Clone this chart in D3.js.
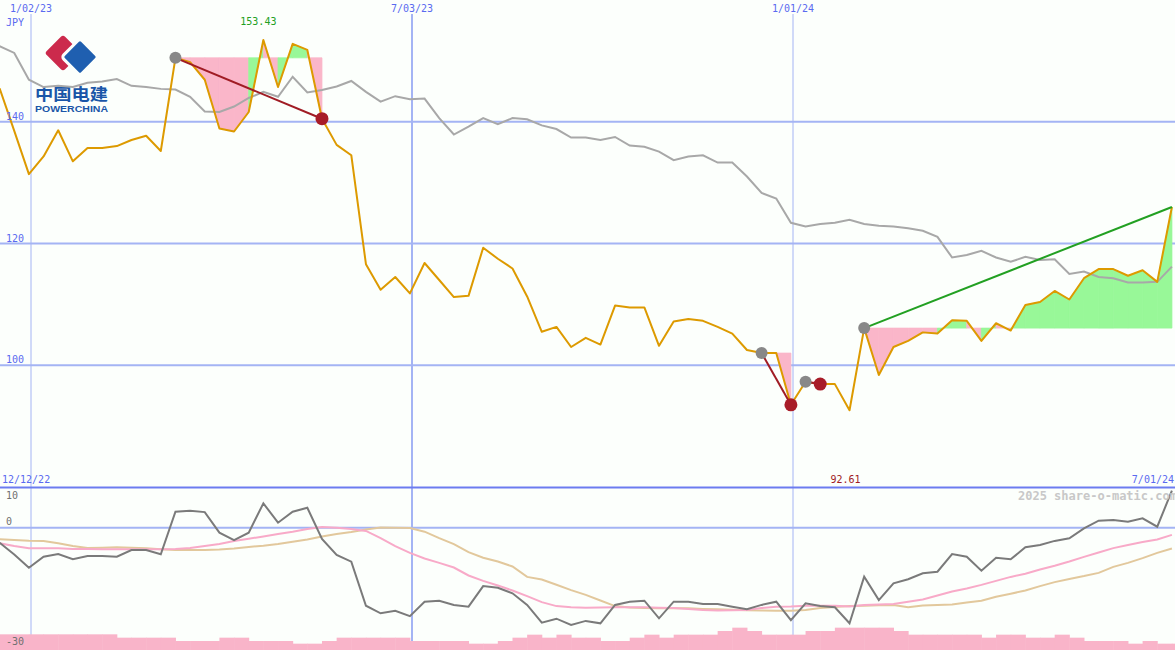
<!DOCTYPE html>
<html>
<head>
<meta charset="utf-8">
<script src="https://cdn.jsdelivr.net/npm/d3@7"></script>
<style>
  body { margin: 0; background: #fcfffc; }
  svg { display: block; }
  text { font-family: "DejaVu Sans Mono", monospace; font-size: 10px; }
</style>
</head>
<body>
<div id="chart"></div>
<script>
// weekly closes, first week 12/18/22
const firstWeek = new Date(2022, 11, 18);

const price = [145.5, 138.5, 131.4, 134.3, 138.6, 133.5, 135.7, 135.7, 136.0, 137.0,
  137.7, 135.2, 150.5, 149.8, 146.9, 138.9, 138.4, 141.6, 153.43, 145.7,
  152.8, 151.8, 140.5, 136.2, 134.5, 116.6, 112.4, 114.5, 111.8, 116.8,
  114.0, 111.2, 111.4, 119.3, 117.5, 115.9, 111.3, 105.5, 106.3, 103.0,
  104.5, 103.4, 109.8, 109.5, 109.5, 103.2, 107.2, 107.6, 107.3, 106.3,
  105.2, 102.5, 102.0, 102.0, 93.5, 97.3, 96.9, 96.9, 92.61, 106.1,
  98.4, 103.0, 104.0, 105.4, 105.2, 107.4, 107.3, 104.0, 106.9, 105.7,
  109.9, 110.4, 112.2, 110.8, 114.3, 115.8, 115.8, 114.7, 115.6, 113.7, 126.0];

const index = [152.4, 151.3, 146.9, 145.7, 145.9, 145.7, 146.4, 146.6, 147.0, 145.9,
  145.7, 145.4, 145.3, 144.1, 141.7, 141.6, 142.5, 143.9, 144.9, 144.1,
  147.4, 144.8, 145.2, 145.8, 146.7, 144.9, 143.3, 144.2, 143.7, 143.8,
  140.6, 137.9, 139.2, 140.6, 139.6, 140.6, 140.4, 139.4, 138.8, 137.4,
  137.4, 137.0, 137.5, 136.1, 135.9, 135.1, 133.7, 134.3, 134.5, 133.3,
  133.3, 131.0, 128.3, 127.4, 123.4, 122.8, 123.2, 123.4, 123.9, 123.2,
  122.9, 122.8, 122.5, 122.1, 121.1, 117.7, 118.1, 118.8, 117.7, 117.0,
  117.8, 117.3, 117.4, 115.0, 115.4, 114.5, 114.3, 113.6, 113.6, 113.7, 116.2];

const relative = [-3.75, -6.7, -10, -7.25, -6.6, -7.9, -7.1, -7.1, -7.25, -5.6,
  -5.6, -6.65, 4.0, 4.25, 3.9, -1.25, -3.1, -1.25, 6.1, 1.25,
  4.0, 5.0, -2.8, -6.8, -8.5, -19.5, -21.4, -20.75, -22.1, -18.5,
  -18.25, -19.3, -19.75, -14.6, -15, -16.4, -19.3, -23.75, -22.75, -24.3,
  -23.3, -23.9, -19.3, -18.5, -18.25, -22.65, -18.5, -18.5, -19.1, -19.1,
  -19.75, -20.4, -19.3, -18.5, -23.1, -18.9, -19.6, -19.9, -23.9, -12.25,
  -18.1, -13.9, -12.9, -11.4, -11, -6.6, -7.25, -10.75, -7.5, -7.9,
  -4.9, -4.3, -3.3, -2.65, -0.15, 1.75, 1.9, 1.5, 2.35, 0.25, 9.25];

const avgShort = [-3.9, -4.6, -5.15, -5.15, -5.15, -5.3, -5.3, -5.4, -5.4, -5.4,
  -5.4, -5.4, -5.3, -5.1, -4.6, -4.1, -3.3, -2.75, -2.2, -1.6,
  -1.0, -0.3, 0.2, 0, -0.3, -0.8, -2.6, -4.6, -6.3, -7.7,
  -8.8, -9.95, -11.95, -13.3, -14.45, -15.7, -17.1, -18.6, -19.6, -19.9,
  -20.0, -19.95, -19.9, -19.9, -19.9, -20, -20.1, -20.3, -20.6, -20.7,
  -20.65, -20.6, -20.1, -19.75, -19.7, -19.5, -19.5, -19.5, -19.7, -19.3,
  -19.2, -19.1, -18.5, -17.95, -16.95, -15.95, -15.2, -14.3, -13.3, -12.3,
  -11.5, -10.45, -9.5, -8.45, -7.3, -6.2, -5.1, -4.3, -3.6, -2.95, -1.8];

const avgLong = [-2.9, -3.1, -3.25, -3.3, -3.9, -4.6, -5.1, -5.0, -4.9, -5.0,
  -5.15, -5.4, -5.6, -5.6, -5.6, -5.45, -5.2, -4.8, -4.5, -4.1,
  -3.5, -2.95, -2.2, -1.6, -1.1, -0.45, 0.05, 0, -0.1, -1.0,
  -2.6, -4.1, -6.1, -7.5, -8.45, -9.7, -12.3, -12.95, -14.25, -15.6,
  -16.8, -18.2, -19.6, -19.95, -20.1, -20.15, -20.15, -20.15, -20.3, -20.4,
  -20.5, -20.65, -20.7, -20.75, -20.75, -20.6, -20.1, -19.8, -19.6, -19.5,
  -19.4, -19.3, -19.9, -19.45, -19.3, -19.2, -18.7, -18.25, -17.25, -16.5,
  -15.7, -14.6, -13.6, -12.8, -12.1, -11.3, -9.8, -8.8, -7.6, -6.3, -5.2];

const volume = [4.7, 4.7, 4.7, 4.7, 4.7, 4.7, 4.7, 4.7, 3.7, 3.7,
  3.7, 3.7, 2.7, 2.7, 2.7, 3.7, 3.7, 2.7, 2.7, 2.7,
  1.9, 1.9, 2.7, 3.7, 3.7, 3.7, 3.7, 3.7, 2.7, 2.7,
  2.7, 2.7, 1.9, 1.9, 2.7, 3.7, 4.6, 3.7, 4.6, 3.7,
  3.7, 2.7, 2.7, 3.7, 4.6, 3.7, 4.6, 4.6, 4.6, 5.7,
  6.7, 5.7, 4.6, 4.6, 4.6, 5.7, 5.7, 6.7, 6.7, 6.7,
  6.7, 5.7, 4.6, 4.6, 4.6, 4.6, 4.6, 3.7, 4.6, 4.6,
  3.7, 3.7, 4.6, 3.7, 2.7, 2.7, 2.7, 1.9, 2.7, 1.9, 1.9];

const dateTicks = ["1/02/23", "7/03/23", "1/01/24"];
const rangeLabels = ["12/12/22", "7/01/24"];
const priceTicks = [100, 120, 140];
const relTicks = [10, 0, -30];

// swings: start week index, end week index
const swings = [
  { from: 12, to: 22, color: "#a01c24", endDot: true },
  { from: 52, to: 54, color: "#a01c24", endDot: true },
  { from: 55, to: 56, color: "#a01c24", endDot: true },
  { from: 59, to: 80, color: "#22a022", endDot: false }
];

var width = 1175, height = 650;
var parseTick = d3.timeParse("%m/%d/%y");
var dates = price.map((d, i) => d3.timeWeek.offset(firstWeek, i));

var svg = d3.select("#chart")
  .append("svg")
  .attr("width", width)
  .attr("height", height)
  .style("background", "#fcfffc");

var x = d3.scaleTime()
  .domain([parseTick("1/02/23"), parseTick("7/01/24")])
  .range([31, 1174]);
var y = d3.scaleLinear().domain([80, 160]).range([487, 0]);
var yRel = d3.scaleLinear().domain([-30, 10]).range([647.7, 487.7]);
var yVol = d3.scaleLinear().domain([0, 15]).range([650, 600]);

var defs = svg.append("defs");
defs.append("clipPath").attr("id", "topClip").append("rect")
  .attr("x", 0).attr("y", 0).attr("width", width).attr("height", 487);
defs.append("clipPath").attr("id", "bottomClip").append("rect")
  .attr("x", 0).attr("y", 488).attr("width", width).attr("height", 162);

// logo
var logo = svg.append("g");
logo.append("rect")
  .attr("x", -13).attr("y", -13).attr("width", 26).attr("height", 26).attr("rx", 3)
  .attr("transform", "translate(63,53) rotate(45)")
  .attr("fill", "#cc2a4c");
logo.append("rect")
  .attr("x", -13).attr("y", -13).attr("width", 26).attr("height", 26).attr("rx", 3)
  .attr("transform", "translate(80,57) rotate(45)")
  .attr("fill", "#1f5fb0")
  .attr("stroke", "#fcfffc").attr("stroke-width", 3);
logo.append("text")
  .attr("x", 35).attr("y", 100)
  .attr("textLength", 73).attr("lengthAdjust", "spacingAndGlyphs")
  .style("font-family", "'Noto Sans CJK SC'")
  .style("font-size", "16px").style("font-weight", "bold")
  .attr("fill", "#1a56a8")
  .text("中国电建");
logo.append("text")
  .attr("x", 35).attr("y", 112)
  .attr("textLength", 73).attr("lengthAdjust", "spacingAndGlyphs")
  .style("font-family", "'Liberation Sans'")
  .style("font-size", "9px").style("font-weight", "bold")
  .attr("fill", "#1a56a8")
  .text("POWERCHINA");

// grid
svg.selectAll(".hgrid")
  .data(priceTicks)
  .enter()
  .append("line")
  .attr("x1", 0).attr("x2", width)
  .attr("y1", d => y(d)).attr("y2", d => y(d))
  .attr("stroke", "#a4b4f4").attr("stroke-width", 2);

svg.append("line")
  .attr("x1", 0).attr("x2", width)
  .attr("y1", yRel(0)).attr("y2", yRel(0))
  .attr("stroke", "#a4b4f4").attr("stroke-width", 2);

svg.selectAll(".vgrid")
  .data(dateTicks)
  .enter()
  .append("line")
  .attr("x1", d => x(parseTick(d))).attr("x2", d => x(parseTick(d)))
  .attr("y1", 14).attr("y2", height)
  .attr("stroke", "#a4b4f4")
  .attr("stroke-width", d => parseTick(d).getMonth() === 0 ? 1 : 2);

svg.append("line")
  .attr("x1", 0).attr("x2", width)
  .attr("y1", 487.5).attr("y2", 487.5)
  .attr("stroke", "#6c7cf0").attr("stroke-width", 2);

// volume
svg.append("g")
  .selectAll("rect")
  .data(volume)
  .enter()
  .append("rect")
  .attr("x", (d, i) => x(dates[i]))
  .attr("width", (d, i) => x(d3.timeWeek.offset(dates[i], 1)) - x(dates[i]) + 0.5)
  .attr("y", d => yVol(d))
  .attr("height", d => yVol(0) - yVol(d))
  .attr("fill", "#f9b4c9");

// swing fills
var topG = svg.append("g").attr("clip-path", "url(#topClip)");
var poly = d3.line();
swings.forEach(s => {
  var level = price[s.from];
  for (let k = s.from; k < s.to; k++) {
    var pts = [[x(dates[k]), y(level)], [x(dates[k]), y(price[k])],
      [x(dates[k + 1]), y(price[k + 1])], [x(dates[k + 1]), y(level)]];
    var c = price[k + 1] >= level ? "#98f898" : "#fab6c9";
    topG.append("path")
      .attr("d", poly(pts) + "Z")
      .attr("fill", c)
      .attr("stroke", c).attr("stroke-width", 0.8);
  }
});

var line = d3.line().x((d, i) => x(dates[i])).y(d => y(d));

topG.append("path")
  .attr("d", line(index))
  .attr("fill", "none").attr("stroke", "#a8a8a8").attr("stroke-width", 2);

topG.append("path")
  .attr("d", line(price))
  .attr("fill", "none").attr("stroke", "#dd9a00").attr("stroke-width", 2)
  .attr("stroke-linejoin", "round");

swings.forEach(s => {
  topG.append("line")
    .attr("x1", x(dates[s.from])).attr("y1", y(price[s.from]))
    .attr("x2", x(dates[s.to])).attr("y2", y(price[s.to]))
    .attr("stroke", s.color).attr("stroke-width", 2);
  topG.append("circle")
    .attr("cx", x(dates[s.from])).attr("cy", y(price[s.from]))
    .attr("r", 6).attr("fill", "#888888");
  if (s.endDot) {
    topG.append("circle")
      .attr("cx", x(dates[s.to])).attr("cy", y(price[s.to]))
      .attr("r", 6.5).attr("fill", "#a81c28");
  }
});

// lower panel
var bottomG = svg.append("g").attr("clip-path", "url(#bottomClip)");
var relLine = d3.line().x((d, i) => x(dates[i])).y(d => yRel(d));

bottomG.append("path")
  .attr("d", relLine(avgLong))
  .attr("fill", "none").attr("stroke", "#e2c89c").attr("stroke-width", 2);
bottomG.append("path")
  .attr("d", relLine(avgShort))
  .attr("fill", "none").attr("stroke", "#f8aac8").attr("stroke-width", 2);
bottomG.append("path")
  .attr("d", relLine(relative))
  .attr("fill", "none").attr("stroke", "#7a7a7a").attr("stroke-width", 2);

// labels
svg.selectAll(".dlabel")
  .data(dateTicks)
  .enter()
  .append("text")
  .attr("x", d => x(parseTick(d)))
  .attr("y", 12)
  .attr("text-anchor", "middle")
  .attr("fill", "#5a6af0")
  .text(d => d);

svg.append("text").attr("x", 6).attr("y", 26).attr("fill", "#5a6af0").text("JPY");

svg.selectAll(".plabel")
  .data(priceTicks)
  .enter()
  .append("text")
  .attr("x", 6)
  .attr("y", d => y(d) - 2)
  .attr("fill", "#5a6af0")
  .text(d => d);

svg.selectAll(".rlabel")
  .data(relTicks)
  .enter()
  .append("text")
  .attr("x", 6)
  .attr("y", d => Math.min(Math.max(yRel(d) - 2.5, 499), 645))
  .attr("fill", "#707070")
  .text(d => d);

var hi = d3.maxIndex(price), lo = d3.minIndex(price);
svg.append("text")
  .attr("x", x(dates[hi]) - 5).attr("y", 25)
  .attr("text-anchor", "middle").attr("fill", "#22a022")
  .text(price[hi].toFixed(2));
svg.append("text")
  .attr("x", x(dates[lo]) - 4).attr("y", 483)
  .attr("text-anchor", "middle").attr("fill", "#a01c24")
  .text(price[lo].toFixed(2));

svg.append("text").attr("x", 2).attr("y", 483).attr("fill", "#5a6af0")
  .text(rangeLabels[0]);
svg.append("text").attr("x", 1174).attr("y", 483).attr("text-anchor", "end").attr("fill", "#5a6af0")
  .text(rangeLabels[1]);

svg.append("text")
  .attr("x", 1018).attr("y", 500)
  .style("font-size", "12px").style("font-weight", "bold")
  .attr("fill", "#c8c8c8")
  .text("2025 share-o-matic.com");
</script>
</body>
</html>
